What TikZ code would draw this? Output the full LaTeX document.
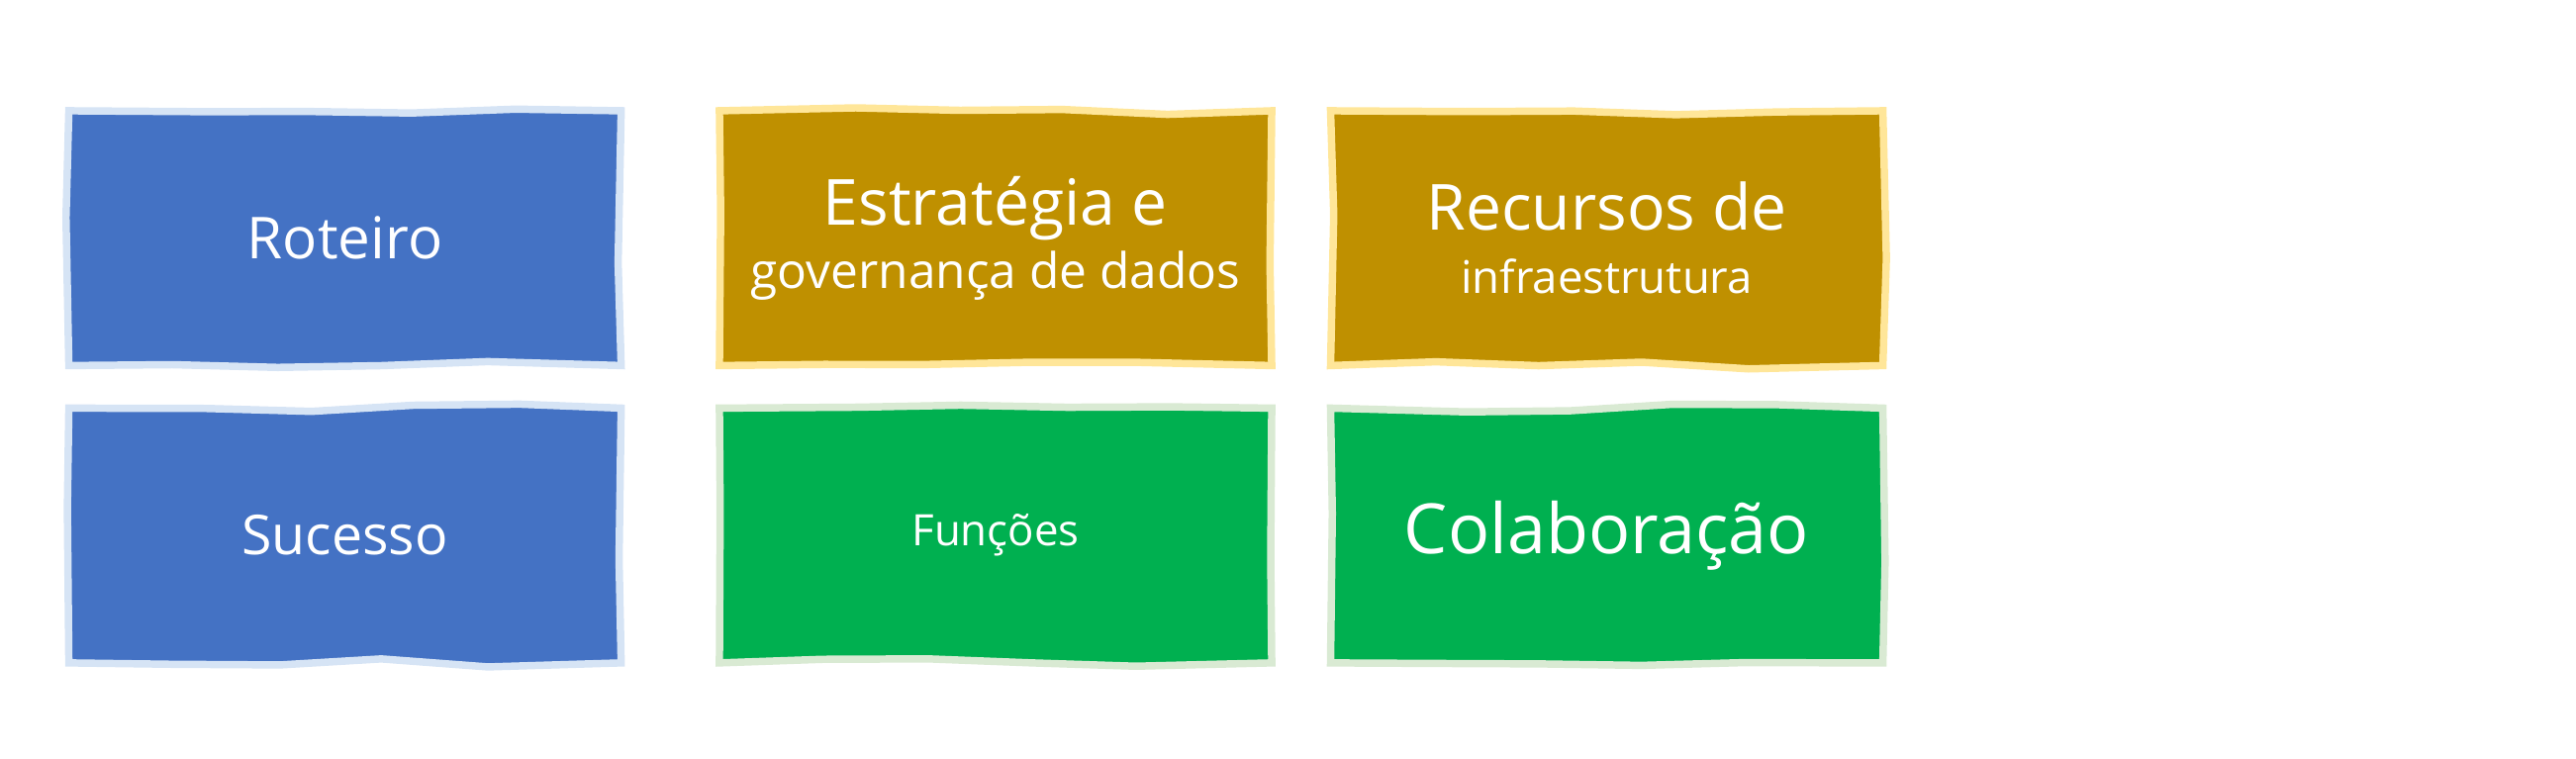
\documentclass[tikz,border=0pt]{standalone}
\usepackage{fontspec}
\setmainfont{Open Sans}
\usetikzlibrary{decorations.pathmorphing}
\definecolor{bblue}{HTML}{4472C4}\definecolor{bblueL}{HTML}{D6E4F5}
\definecolor{bgold}{HTML}{BF9000}\definecolor{bgoldL}{HTML}{FFE699}
\definecolor{bgreen}{HTML}{00B050}\definecolor{bgreenL}{HTML}{D9EAD3}
\tikzset{x=0.01cm,y=-0.01cm,
 card/.style={line width=0.045cm,minimum width=3.36cm,minimum height=1.55cm,inner sep=0pt,
   text=white,align=center,decorate,decoration={random steps,segment length=18pt,amplitude=0.7pt}},
 cblue/.style={card,fill=bblue,draw=bblueL},
 cgold/.style={card,fill=bgold,draw=bgoldL},
 cgreen/.style={card,fill=bgreen,draw=bgreenL}}
\begin{document}
\begin{tikzpicture}
\useasboundingbox (0,0) rectangle (1568,462);
\pgfmathsetseed{7}
\node[cblue] (r) at (210,145) {\fontsize{10pt}{12pt}\selectfont Roteiro};
\node[cgold] (e) at (606,145) {\fontsize{11pt}{13pt}\selectfont Estratégia e\\[-1pt]\fontsize{8.5pt}{11pt}\selectfont governança de dados};
\node[cgold] (i) at (978,145) {\fontsize{11pt}{13pt}\selectfont Recursos de\\[-1pt]\fontsize{7.8pt}{11pt}\selectfont infraestrutura};
\node[cblue] (s) at (210,326) {\fontsize{9.5pt}{12pt}\selectfont Sucesso};
\node[cgreen] (f) at (606,326) {\fontsize{7.5pt}{10pt}\selectfont Funções};
\node[cgreen] (c) at (978,326) {\fontsize{12pt}{14pt}\selectfont Colaboração};
\end{tikzpicture}
\end{document}
